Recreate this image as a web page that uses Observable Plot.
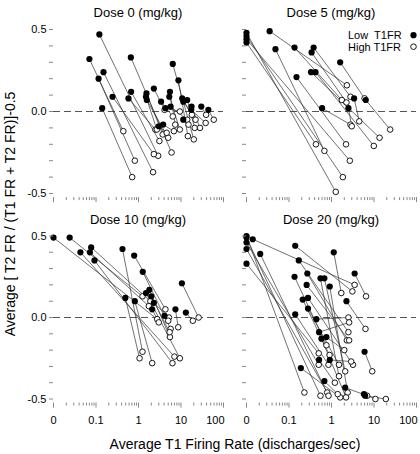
<!DOCTYPE html>
<html><head><meta charset="utf-8">
<script src="https://cdn.jsdelivr.net/npm/d3@7"></script>
<script src="https://cdn.jsdelivr.net/npm/@observablehq/plot@0.6"></script>
<style>
body{margin:0;background:#fff;}
#chart{position:relative;width:420px;height:454px;overflow:hidden;font-family:"Liberation Sans",Arial,sans-serif;}
#chart .panel{position:absolute;}
#chart svg.overlay{position:absolute;left:0;top:0;pointer-events:none;}
</style></head><body>
<div id="chart"></div>
<script>
// Each row: [low-T1FR rate, low-T1FR index, high-T1FR rate, high-T1FR index]
const dose0 = [
  [0.12,0.47,2.9,-0.27],[0.07,0.32,0.44,-0.12],[0.115,0.20,0.82,-0.30],[0.14,0.02,0.71,-0.40],
  [0.15,0.24,2.2,-0.37],[0.245,0.09,2.3,-0.26],[0.66,0.33,6.0,-0.25],[0.67,0.12,3.1,-0.18],
  [0.58,0.08,2.5,-0.11],[1.54,0.11,3.7,-0.14],[1.5,0.09,2.7,-0.11],[1.57,0.07,5.0,-0.16],
  [2.3,0.14,4.1,0.01],[3.4,0.06,6.4,-0.03],[5.5,0.12,7.3,-0.08],[5.3,0.09,9.4,-0.11],
  [6.4,0.29,20,-0.17],[8.7,0.19,14.5,-0.15],[4.3,0.02,9.4,0.0],[5.7,0.03,14,-0.05],
  [10.7,0.08,18,-0.02],[11.3,0.06,22,-0.05],[14,0.07,21,-0.10],[17.7,0.03,28,-0.10],
  [17.4,0.01,38,-0.07],[30,0.03,39,-0.02],[44,0.01,59,-0.05],[11.3,-0.05,15,-0.08],
  [3.0,-0.09,4.6,-0.13],[3.8,-0.08,6.8,-0.12]
];
const dose5 = [
  [0,0.48,1.26,-0.49],[0,0.46,1.85,-0.40],[0,0.44,2.7,-0.30],[0,0.42,0.43,-0.20],
  [0.035,0.49,2.3,0.16],[0.048,0.38,0.68,-0.24],[0.135,0.39,1.75,0.07],[0.38,0.39,2.8,0.09],
  [0.34,0.36,2.25,0.055],[0.15,0.21,2.2,-0.20],[0.33,0.24,13.5,-0.16],[0.42,0.24,9.9,-0.21],
  [0.6,0.02,2.8,-0.08],[1.6,0.30,6.0,0.08],[6.4,0.07,24,-0.11],[3.4,0.08,4.5,-0.06],
  [2.5,0.02,3.0,-0.09]
];
const dose10 = [
  [0,0.49,2.75,-0.01],[0.024,0.49,1.24,0.13],[0.043,0.40,7.0,-0.24],[0.077,0.43,1.9,0.10],
  [0.072,0.40,1.75,0.07],[0.092,0.35,6.3,-0.28],[0.42,0.42,1.24,-0.21],[0.79,0.38,4.3,0.05],
  [1.26,0.28,5.7,-0.07],[1.5,0.15,9.4,-0.25],[1.8,0.17,5.5,-0.12],[2.0,0.13,5.4,-0.09],
  [2.3,0.09,5.2,0.0],[2.1,0.05,3.0,-0.03],[0.49,0.12,1.06,-0.25],[0.82,0.10,2.1,-0.28],
  [4.1,0.01,5.0,-0.02],[7.4,0.05,8.6,-0.06],[10.5,0.21,26,0.0],[13,0.03,19,-0.02]
];
const dose20 = [
  [0,0.50,0.23,-0.46],[0,0.49,0.55,-0.48],[0,0.46,0.5,-0.29],[0,0.42,0.79,-0.46],
  [0,0.33,0.5,-0.22],[0.014,0.48,3.5,0.20],[0.021,0.39,0.85,-0.48],[0.14,0.44,3.1,0.16],
  [0.17,0.35,2.5,-0.09],[0.135,0.25,0.76,-0.17],[0.27,0.27,2.3,-0.14],[0.26,0.20,2.6,-0.14],
  [0.21,0.11,0.9,-0.23],[0.28,0.12,3.2,-0.29],[0.28,0.055,1.5,-0.29],[0.14,0.02,0.85,-0.29],
  [0.19,-0.31,1.6,-0.49],[0.44,-0.01,2.5,0.0],[0.51,-0.09,2.6,-0.03],[0.55,0.24,1.5,-0.36],
  [0.68,0.24,2.1,-0.33],[0.91,0.19,2.4,-0.46],[1.13,0.40,1.7,0.15],[3.5,0.27,6.5,0.13],
  [2.25,0.10,6.3,-0.07],[0.58,-0.13,2.2,-0.49],[0.76,-0.12,2.0,-0.20],[0.51,-0.26,1.2,-0.40],
  [0.91,-0.26,2.9,-0.27],[0.68,-0.39,1.4,-0.47],[2.1,-0.43,6.9,-0.48],[6.0,-0.21,9.1,-0.33],
  [5.8,-0.47,10.8,-0.50],[6.2,-0.48,19,-0.50]
];
const panelTitles = ["Dose 0 (mg/kg)", "Dose 5 (mg/kg)", "Dose 10 (mg/kg)", "Dose 20 (mg/kg)"];
const legendLabels = ["Low  T1FR", "High T1FR"];
const xTickValues = [0.01, 0.1, 1, 10, 100];
const xTickLabels = ["0", "0.1", "1", "10", "100"];
const yTickValues = [-0.5, 0, 0.5];
const yTickLabels = ["-0.5", "0.0", "0.5"];
const xTitle = "Average T1 Firing Rate (discharges/sec)";
const yTitle = "Average [ T2 FR / (T1 FR + T2 FR)]-0.5";

const ZERO_AT = 0.01; // rate 0 is drawn at the axis origin of the log scale
const xMinor = [];
[0.01, 0.1, 1, 10].forEach(p => { for (let k = 2; k <= 9; k++) xMinor.push(+(p * k).toPrecision(3)); });
const yMinor = d3.range(-5, 6).map(i => i / 10);
const tickFont = "'Liberation Sans Narrow','Arial Narrow','Liberation Sans',Arial,sans-serif";

const cols = [
  {left: 0, width: 230, marginLeft: 53, marginRight: 7},
  {left: 230, width: 190, marginLeft: 16, marginRight: 4}
];
const rows = [
  {top: 0, height: 210, marginTop: 24.9, marginBottom: 12.9},
  {top: 210, height: 236, marginTop: 21.4, marginBottom: 43.4}
];
const chart = document.getElementById("chart");
const datasets = [dose0, dose5, dose10, dose20];

datasets.forEach((pairs, i) => {
  const c = cols[i % 2], r = rows[Math.floor(i / 2)];
  const showX = r === rows[1], showY = c === cols[0];
  const data = pairs.map(([lx, ly, hx, hy]) => ({
    lx: lx === 0 ? ZERO_AT : lx, ly, hx: hx === 0 ? ZERO_AT : hx, hy
  }));
  const labelOf = d => xTickLabels[xTickValues.findIndex(v => Math.abs(v - d) < 1e-12)];
  const fmtY = d => { const k = yTickValues.findIndex(v => Math.abs(v - d) < 1e-9); return showY && k >= 0 ? yTickLabels[k] : ""; };
  const lastTick = xTickValues[xTickValues.length - 1];
  const marks = [
    Plot.ruleY([0], {stroke: "#555", strokeWidth: 1, strokeDasharray: "7,4"}),
    Plot.link(data, {x1: "lx", y1: "ly", x2: "hx", y2: "hy", stroke: "#333", strokeWidth: 0.7}),
    Plot.dot(data, {x: "hx", y: "hy", r: 2.8, fill: "white", stroke: "black", strokeWidth: 0.9}),
    Plot.dot(data, {x: "lx", y: "ly", r: 3.1, fill: "black"}),
    Plot.axisX({ticks: xMinor, tickSize: 3, tickFormat: () => "", stroke: "#888", label: null}),
    Plot.axisX({ticks: xTickValues, tickSize: 5, tickFormat: () => "", stroke: "#888", line: true, label: null}),
    Plot.axisY({ticks: yMinor, tickSize: 4, tickPadding: 3, tickFormat: fmtY, stroke: "#888", fill: "black", line: true, label: null})
  ];
  if (showX) {
    marks.push(
      Plot.axisX({ticks: xTickValues.slice(0, -1), tickSize: 0, tickPadding: 13, tickFormat: labelOf, fill: "black", label: null}),
      Plot.axisX({ticks: [lastTick], tickSize: 0, tickPadding: 13, tickFormat: labelOf, textAnchor: "end", dx: 1, fill: "black", label: null})
    );
  }
  const svg = Plot.plot({
    width: c.width, height: r.height,
    marginLeft: c.marginLeft, marginRight: c.marginRight,
    marginTop: r.marginTop, marginBottom: r.marginBottom,
    style: {background: "transparent", overflow: "visible", fontFamily: tickFont, fontSize: "11px", color: "black"},
    x: {type: "log", domain: [0.01, 100], label: null},
    y: {domain: [-0.525, 0.525], label: null},
    marks
  });
  const holder = document.createElement("div");
  holder.className = "panel";
  holder.style.left = c.left + "px";
  holder.style.top = r.top + "px";
  holder.appendChild(svg);
  chart.appendChild(holder);
});

// overlay: panel titles, axis titles, legend
const ov = d3.select(chart).append("svg").attr("class", "overlay")
  .attr("width", 420).attr("height", 454)
  .style("font-family", "'Liberation Sans',Arial,sans-serif");
const titlePos = [[138, 16.5], [331, 16.5], [138, 224], [331, 224]];
ov.selectAll("text.ptitle").data(panelTitles).join("text").attr("class", "ptitle")
  .attr("x", (d, i) => titlePos[i][0]).attr("y", (d, i) => titlePos[i][1])
  .attr("text-anchor", "middle").attr("font-size", 13).text(d => d);
ov.append("text").attr("x", 235).attr("y", 449).attr("text-anchor", "middle")
  .attr("font-size", 14).text(xTitle);
ov.append("text").attr("transform", "translate(15,214) rotate(-90)").attr("text-anchor", "middle")
  .attr("font-size", 14).text(yTitle);
const lg = ov.append("g").attr("font-size", 11);
legendLabels.forEach((lab, i) => {
  const y = 39 + i * 11.5;
  lg.append("text").attr("x", 348).attr("y", y).style("white-space", "pre").attr("xml:space", "preserve").text(lab);
  lg.append("circle").attr("cx", 413.5).attr("cy", y - 3.8).attr("r", i === 0 ? 3.1 : 2.8)
    .attr("fill", i === 0 ? "black" : "white").attr("stroke", "black").attr("stroke-width", i === 0 ? 0 : 0.9);
});
</script></body></html>
